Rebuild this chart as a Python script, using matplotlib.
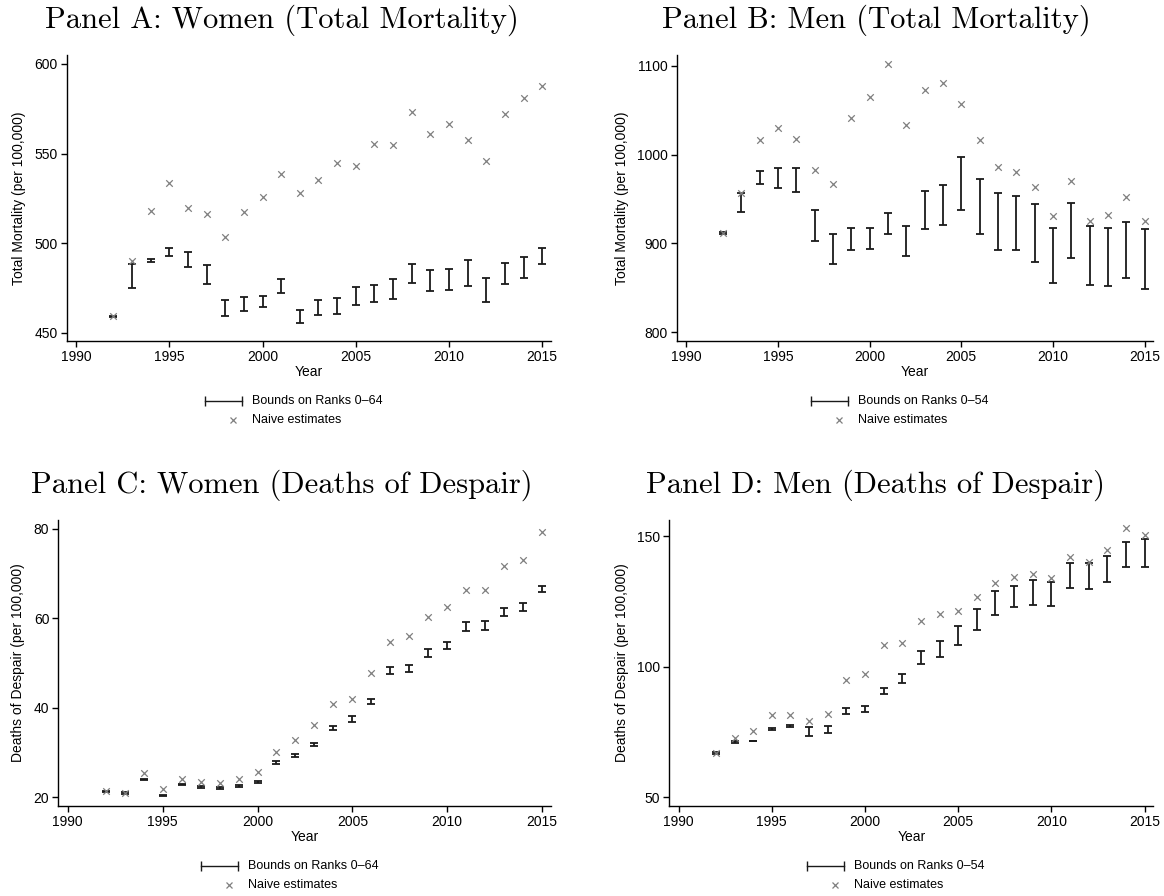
import matplotlib
matplotlib.use("Agg")
import matplotlib.pyplot as plt
from matplotlib.lines import Line2D
import numpy as np

plt.rcParams['font.family'] = ['Liberation Sans', 'DejaVu Sans']

years = list(range(1992, 2016))

# Panel A: Women, total mortality
a_naive = [459.3, 490.0, 517.9, 533.4, 519.4, 516.1, 503.4, 517.4, 525.9, 538.8, 528.0, 535.4,
           544.7, 543.2, 555.1, 554.6, 573.2, 560.9, 566.7, 557.8, 545.8, 571.9, 581.0, 587.9]
a_lo = [458.8, 475.3, 489.5, 493.0, 486.7, 477.4, 459.7, 462.3, 464.5, 472.0, 455.6, 460.0,
        460.6, 465.6, 467.1, 469.2, 477.7, 473.4, 473.8, 476.2, 467.1, 477.4, 480.9, 488.3]
a_hi = [459.5, 488.5, 491.5, 497.6, 495.4, 488.0, 468.6, 470.1, 470.7, 480.3, 463.0, 468.6,
        469.3, 475.7, 476.8, 480.1, 488.3, 485.2, 485.7, 490.4, 480.7, 488.9, 492.1, 497.5]

# Panel B: Men, total mortality
b_naive = [912.0, 956.8, 1016.5, 1030.5, 1017.7, 982.7, 967.0, 1041.0, 1065.0, 1102.0, 1033.5, 1072.9,
           1080.8, 1057.1, 1016.5, 986.1, 980.0, 963.2, 930.8, 970.3, 925.2, 932.3, 952.6, 924.8]
b_lo = [911.0, 935.7, 967.3, 962.4, 958.3, 902.6, 877.1, 892.5, 893.2, 910.2, 885.7, 916.5,
        921.1, 938.0, 910.9, 892.5, 892.1, 879.3, 855.3, 883.1, 852.6, 851.9, 861.3, 848.1]
b_hi = [912.5, 956.4, 982.0, 985.3, 985.3, 937.2, 910.5, 917.7, 917.3, 934.6, 919.9, 959.4,
        965.8, 997.7, 972.9, 956.8, 953.4, 944.4, 917.3, 945.5, 919.9, 917.7, 924.1, 916.5]

# Panel C: Women, deaths of despair
c_naive = [21.4, 21.0, 25.5, 21.8, 24.2, 23.4, 23.3, 24.2, 25.6, 30.1, 32.7, 36.2,
           40.8, 41.9, 47.8, 54.8, 56.1, 60.3, 62.4, 66.3, 66.4, 71.7, 72.9, 79.3]
c_lo = [21.25, 20.8, 23.9, 20.4, 22.7, 22.1, 21.85, 22.3, 23.3, 27.4, 28.9, 31.45,
        35.1, 36.9, 40.8, 47.5, 48.05, 51.4, 53.1, 57.1, 57.4, 60.5, 61.6, 65.9]
c_hi = [21.5, 21.2, 24.0, 20.6, 23.0, 22.5, 22.3, 22.7, 23.55, 28.2, 29.7, 32.05,
        36.0, 38.1, 42.0, 49.1, 49.55, 53.05, 54.8, 59.1, 59.4, 62.35, 63.5, 67.3]

# Panel D: Men, deaths of despair
d_naive = [67.1, 72.8, 75.4, 81.5, 81.6, 79.3, 81.8, 95.0, 97.2, 108.3, 109.0, 117.5,
           120.2, 121.5, 126.7, 132.2, 134.5, 135.4, 134.0, 142.1, 140.0, 144.8, 153.1, 150.6]
d_lo = [66.8, 71.0, 71.6, 75.7, 76.9, 73.4, 74.7, 81.8, 82.5, 89.6, 93.7, 101.0,
        103.7, 108.2, 113.9, 119.8, 122.8, 123.7, 123.4, 130.1, 129.8, 132.5, 138.1, 138.1]
d_hi = [67.4, 71.5, 71.7, 76.6, 77.9, 76.9, 77.4, 84.3, 85.0, 91.9, 97.4, 105.9,
        110.0, 115.7, 122.0, 129.0, 131.1, 133.2, 132.5, 139.8, 139.8, 142.3, 147.7, 148.8]

titles = ["Panel A: Women (Total Mortality)", "Panel B: Men (Total Mortality)",
          "Panel C: Women (Deaths of Despair)", "Panel D: Men (Deaths of Despair)"]
ylabels = ["Total Mortality (per 100,000)", "Total Mortality (per 100,000)",
           "Deaths of Despair (per 100,000)", "Deaths of Despair (per 100,000)"]
bound_labels = ["Bounds on Ranks 0\u201364", "Bounds on Ranks 0\u201354",
                "Bounds on Ranks 0\u201364", "Bounds on Ranks 0\u201354"]
yticks = [[450, 500, 550, 600], [800, 900, 1000, 1100], [20, 40, 60, 80], [50, 100, 150]]
ylims = [(445.5, 605), (789.9, 1112.4), (18.06, 81.94), (46.7, 156.2)]
xticks = [1990, 1995, 2000, 2005, 2010, 2015]

panels = [(a_naive, a_lo, a_hi), (b_naive, b_lo, b_hi), (c_naive, c_lo, c_hi), (d_naive, d_lo, d_hi)]

W, H = 1164, 896
fig = plt.figure(figsize=(W / 100, H / 100), dpi=100)

# axes boxes in pixels: left, right, top, bottom
boxes = [(66.7, 551, 55, 341), (677, 1153.3, 55, 341), (58.3, 551, 520, 806), (669.3, 1153.3, 520, 806)]
# title centre x and baseline y in pixels
title_pos = [(282, 27.5), (876, 27.5), (282, 492.5), (876, 492.5)]

NAIVE_COLOR = "#7f7f7f"
BAR_COLOR = "#1a1a1a"

for i, (naive, lo, hi) in enumerate(panels):
    l, r, t, b = boxes[i]
    ax = fig.add_axes([l / W, 1 - b / H, (r - l) / W, (b - t) / H])
    lo_a = np.array(lo)
    hi_a = np.array(hi)
    mid = (lo_a + hi_a) / 2
    half = (hi_a - lo_a) / 2
    ax.errorbar(years, mid, yerr=half, fmt='none', ecolor=BAR_COLOR, elinewidth=1.3,
                capsize=3, capthick=1.3, zorder=2)
    ax.scatter(years, naive, marker='x', s=22, color=NAIVE_COLOR, linewidths=0.9, zorder=3)
    ax.set_xlim(1989.5, 2015.47)
    ax.set_ylim(*ylims[i])
    ax.set_xticks(xticks)
    ax.set_yticks(yticks[i])
    ax.spines['top'].set_visible(False)
    ax.spines['right'].set_visible(False)
    for s in ['left', 'bottom']:
        ax.spines[s].set_linewidth(1.0)
    ax.tick_params(direction='out', length=4, width=1.0, labelsize=10, pad=2.5)
    ax.set_xlabel("Year", fontsize=10, labelpad=1)
    ax.set_ylabel(ylabels[i], fontsize=10, labelpad=6)
    cx, cy = title_pos[i]
    fig.text(cx / W, 1 - cy / H, titles[i], ha='center', va='baseline',
             fontsize=22, family='cmr10')

    # legend below the axes
    lx0 = (l + r) / 2 - 104
    ly1 = b + 60
    ly2 = b + 79
    seg = Line2D([(lx0) / W, (lx0 + 37) / W], [1 - ly1 / H, 1 - ly1 / H], transform=fig.transFigure,
                 color=BAR_COLOR, lw=1.0, marker='|', markersize=7, markeredgewidth=1.0)
    fig.add_artist(seg)
    fig.text((lx0 + 47) / W, 1 - ly1 / H, bound_labels[i], ha='left', va='center', fontsize=9)
    mk = Line2D([(lx0 + 28) / W], [1 - ly2 / H], transform=fig.transFigure, linestyle='none',
                marker='x', markersize=4.5, color=NAIVE_COLOR, markeredgewidth=0.9)
    fig.add_artist(mk)
    fig.text((lx0 + 47) / W, 1 - ly2 / H, "Naive estimates", ha='left', va='center', fontsize=9)

fig.savefig("out.png", dpi=100)
